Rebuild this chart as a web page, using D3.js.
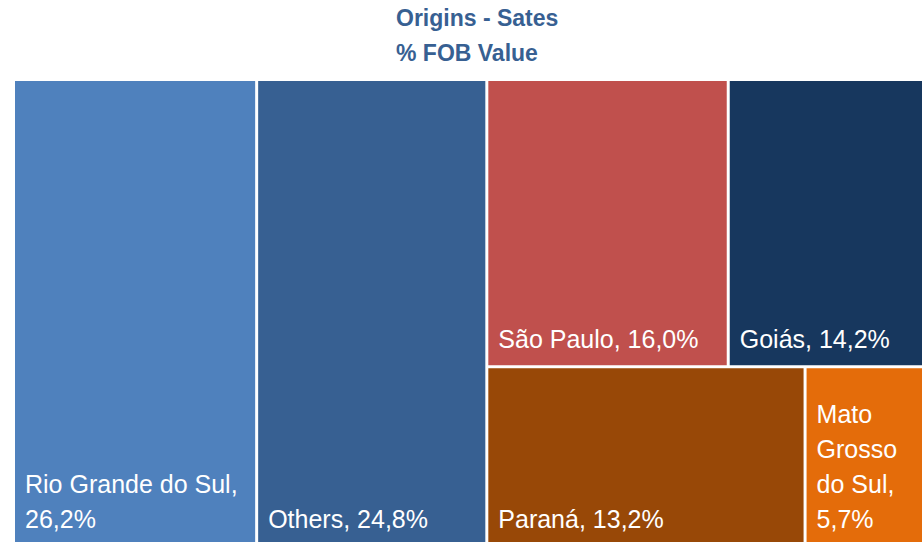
<!DOCTYPE html>
<html>
<head>
<meta charset="utf-8">
<script src="https://cdnjs.cloudflare.com/ajax/libs/d3/7.8.5/d3.min.js"></script>
<style>
  html, body { margin: 0; padding: 0; background: #fff; overflow: hidden; }
  svg { display: block; }
</style>
</head>
<body>
<svg width="922" height="542"></svg>
<script>
// data
let states = ["Rio Grande do Sul", "Others", "São Paulo", "Goiás", "Paraná", "Mato Grosso do Sul"];
let shares = [26.2, 24.8, 16.0, 14.2, 13.2, 5.7];
let colors = ["#4f81bd", "#376092", "#c0504d", "#17375e", "#984807", "#e46c0a"];
let titleLines = ["Origins - Sates", "% FOB Value"];

var svg = d3.select("svg"),
    width = +svg.attr("width"),
    height = +svg.attr("height");

let labelFont = "'Liberation Sans', Arial, sans-serif";

// title
svg.append("g")
    .selectAll("text")
    .data(titleLines)
    .enter().append("text")
    .attr("x", 396)
    .attr("y", (d, i) => 26 + i * 35)
    .style("font-family", labelFont)
    .style("font-weight", "bold")
    .style("font-size", "23px")
    .style("fill", "#376092")
    .text(d => d);

// the treemap runs a bit past the right and bottom edge of the picture
var root = d3.hierarchy({
        children: states.map((s, i) => ({ name: s, value: shares[i], color: colors[i] }))
    })
    .sum(d => d.value || 0)
    .sort((a, b) => b.value - a.value);

d3.treemap()
    .tile(d3.treemapSquarify.ratio(1))
    .size([926, 464])
    .paddingInner(3)(root);

var g = svg.append("g")
    .attr("transform", "translate(15,81)");

var cell = g.selectAll("g")
    .data(root.leaves())
    .enter().append("g")
    .attr("transform", d => "translate(" + d.x0 + "," + d.y0 + ")");

cell.append("rect")
    .attr("width", d => d.x1 - d.x0)
    .attr("height", d => d.y1 - d.y0)
    .attr("fill", d => d.data.color);

function fmt(v) {
    return v.toFixed(1).replace(".", ",") + "%";
}

// labels sit bottom-left, wrapped to the width of the cell
cell.each(function (d) {
    let sel = d3.select(this);
    let w = d.x1 - d.x0 - 20;
    let h = d.y1 - d.y0;
    let words = (d.data.name + ", " + fmt(d.data.value)).split(" ");
    let text = sel.append("text")
        .style("font-family", labelFont)
        .style("font-size", "25px")
        .style("fill", "#fff");
    let lines = [];
    let line = "";
    words.forEach(word => {
        let test = line ? line + " " + word : word;
        text.text(test);
        if (line && text.node().getComputedTextLength() > w) {
            lines.push(line);
            line = word;
        } else {
            line = test;
        }
    });
    lines.push(line);
    text.text(null);
    let lineH = 35;
    let last = h - 17;
    text.selectAll("tspan")
        .data(lines)
        .enter().append("tspan")
        .attr("x", 10)
        .attr("y", (l, i) => last - (lines.length - 1 - i) * lineH)
        .text(l => l);
});
</script>
</body>
</html>
